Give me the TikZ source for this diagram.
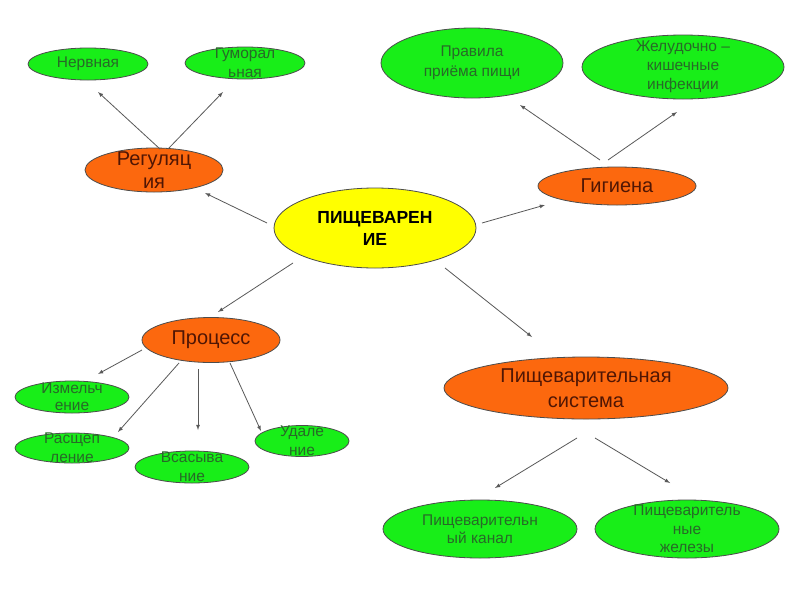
\documentclass[tikz,border=0pt]{standalone}
\usepackage{fontspec}
\setmainfont{Liberation Sans}
\usepackage{tikz}
\usetikzlibrary{calc,shapes.geometric}

\definecolor{leafgreen}{RGB}{24,238,24}
\definecolor{leafink}{RGB}{40,105,40}
\definecolor{branchorange}{RGB}{252,104,14}
\definecolor{branchink}{RGB}{80,22,4}
\definecolor{rootyellow}{RGB}{255,255,0}

\begin{document}
\begin{tikzpicture}[x=1pt,y=-1pt,
  leaf/.style={ellipse,draw=black!70,line width=0.8pt,fill=leafgreen,inner sep=0pt},
  leaftext/.style={align=center,text=leafink,font=\fontsize{15.5}{19}\selectfont},
  branch/.style={ellipse,draw=black!70,line width=0.8pt,fill=branchorange,inner sep=0pt},
  branchtext/.style={align=center,text=branchink,font=\fontsize{20}{23}\selectfont},
  arr/.style={->,>=latex,black!65,line width=0.8pt}]

\useasboundingbox[fill=white] (0,0) rectangle (800,600);

% centre
\node[ellipse,draw=black!70,line width=0.8pt,fill=rootyellow,inner sep=0pt,
  minimum width=202,minimum height=80,
  label={[align=center,font=\fontsize{17.5}{22}\selectfont\bfseries]center:{ПИЩЕВАРЕН\\ИЕ}}] (main) at (375,228) {};

% branches
\node[branch,minimum width=138,minimum height=44,label={[branchtext]center:{Регуляц\\ия}}] (reg) at (154,170) {};
\node[branch,minimum width=158,minimum height=38,label={[branchtext]center:Гигиена}] (gig) at (617,186) {};
\node[branch,minimum width=138,minimum height=45,label={[branchtext]center:Процесс}] (proc) at (211,340) {};
\node[branch,minimum width=284,minimum height=62,
  label={[branchtext,font=\fontsize{20}{25}\selectfont]center:{Пищеварительная\\система}}] (psys) at (586,388) {};

% leaves
\node[leaf,minimum width=120,minimum height=32,label={[leaftext]center:Нервная}] (nerv) at (88,64) {};
\node[leaf,minimum width=120,minimum height=32,label={[leaftext]center:{Гуморал\\ьная}}] (hum) at (245,63) {};
\node[leaf,minimum width=182,minimum height=70,label={[leaftext,font=\fontsize{15.5}{20}\selectfont]center:{Правила\\приёма пищи}}] (prav) at (472,63) {};
\node[leaf,minimum width=202,minimum height=64,label={[leaftext]center:{Желудочно –\\кишечные\\инфекции}}] (zhel) at (683,67) {};
\node[leaf,minimum width=114,minimum height=32,label={[leaftext,font=\fontsize{15.5}{17}\selectfont]center:{Измельч\\ение}}] (izm) at (72,397) {};
\node[leaf,minimum width=114,minimum height=30,label={[leaftext]center:{Расщеп\\ление}}] (ras) at (72,448) {};
\node[leaf,minimum width=114,minimum height=32,label={[leaftext]center:{Всасыва\\ние}}] (vsa) at (192,467) {};
\node[leaf,minimum width=94,minimum height=31,label={[leaftext]center:{Удале\\ние}}] (uda) at (302,441) {};
\node[leaf,minimum width=194,minimum height=58,label={[leaftext,font=\fontsize{15.5}{18}\selectfont]center:{Пищеварительн\\ый канал}}] (kan) at (480,529) {};
\node[leaf,minimum width=184,minimum height=58,label={[leaftext,font=\fontsize{15.5}{18.5}\selectfont]center:{Пищеваритель\\ные\\железы}}] (zhe) at (687,529) {};

% arrows
\draw[arr] ($(main)+(-108,-5)$) -- ($(reg)+(51,23)$);
\draw[arr] ($(main)+(107,-5)$) -- ($(gig)+(-72,19)$);
\draw[arr] ($(main)+(-82,35)$) -- ($(proc)+(7,-28)$);
\draw[arr] ($(main)+(70,40)$) -- ($(psys)+(-54,-51)$);

\draw[arr] ($(reg)+(6,-21)$) -- ($(nerv)+(10,28)$);
\draw[arr] ($(reg)+(14,-21)$) -- ($(hum)+(-22,29)$);

\draw[arr] ($(gig)+(-17,-26)$) -- ($(prav)+(48,42)$);
\draw[arr] ($(gig)+(-9,-26)$) -- ($(zhel)+(-6,45)$);

\draw[arr] ($(proc)+(-69,10)$) -- ($(izm)+(26,-23)$);
\draw[arr] ($(proc)+(-32,23)$) -- ($(ras)+(46,-16)$);
\draw[arr] ($(proc)+(-13,29)$) -- ($(vsa)+(6,-37)$);
\draw[arr] ($(proc)+(19,23)$) -- ($(uda)+(-41,-10)$);

\draw[arr] ($(psys)+(-9,50)$) -- ($(kan)+(15,-41)$);
\draw[arr] ($(psys)+(9,50)$) -- ($(zhe)+(-17,-46)$);

\end{tikzpicture}
\end{document}
